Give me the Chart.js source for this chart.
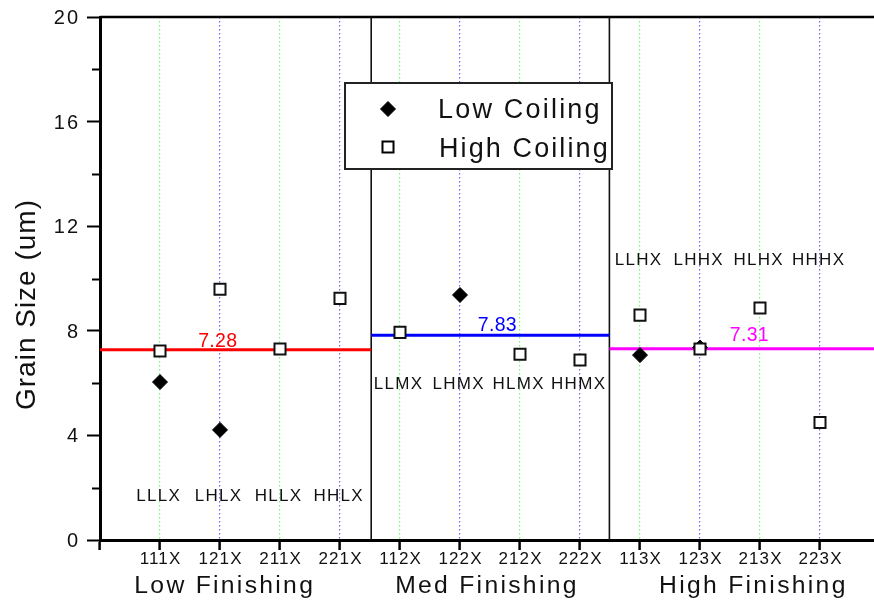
<!DOCTYPE html>
<html>
<head>
<meta charset="utf-8">
<script src="https://cdn.jsdelivr.net/npm/chart.js@4/dist/chart.umd.min.js"></script>
<style>
  html, body { margin: 0; padding: 0; background: #fff; overflow: hidden; }
  #wrap { width: 874px; height: 602px; }
</style>
</head>
<body>
<div id="wrap"><canvas id="myChart"></canvas></div>
<script>
// sample codes on the x axis, placed at 1..12
const codes = ['111X', '121X', '211X', '221X', '112X', '122X', '212X', '222X', '113X', '123X', '213X', '223X'];
// route names written inside the plot, one per code
const routes = ['LLLX', 'LHLX', 'HLLX', 'HHLX', 'LLMX', 'LHMX', 'HLMX', 'HHMX', 'LLHX', 'LHHX', 'HLHX', 'HHHX'];
// grain size (um), null = no point
const lowCoiling = [6.04, 4.21, null, null, null, 9.37, null, null, 7.07, 7.36, null, null];
const highCoiling = [7.23, 9.59, 7.30, 9.24, 7.94, null, 7.10, 6.88, 8.60, 7.30, 8.87, 4.49];
// finishing groups and their mean grain size
const groups = ['Low Finishing', 'Med Finishing', 'High Finishing'];
const groupMeans = [7.28, 7.83, 7.31];
const groupBounds = [0, 4.52, 8.49, 12.9];

const FONT = '"Liberation Sans", Arial, sans-serif';
const meanColors = ['#ff0000', '#0000ff', '#ff00ff'];
const routeLevels = [1.72, 6.02, 10.75];     // height of the route names per group
const meanLabelAt = [[1.96, 7.65], [6.62, 8.26], [10.82, 7.88]];
const groupLabelX = [2.06, 6.43, 10.87];

function toPoints(arr) {
  let pts = [];
  arr.forEach((v, i) => {
    if (v !== null) pts.push({ x: i + 1, y: v });
  });
  return pts;
}

function text(ctx, s, x, y, size, color, align, spacing) {
  ctx.save();
  ctx.font = size + 'px ' + FONT;
  ctx.fillStyle = color;
  ctx.letterSpacing = spacing + 'px';
  ctx.textAlign = align;
  ctx.textBaseline = 'alphabetic';
  let dx = 0;
  if (align === 'center') dx = spacing / 2;
  if (align === 'right') dx = spacing;
  ctx.fillText(s, x + dx, y);
  ctx.restore();
}

const decor = {
  id: 'decor',
  beforeDatasetsDraw(chart) {
    const { ctx, chartArea, scales: { x, y } } = chart;
    ctx.save();
    // top frame line
    ctx.strokeStyle = '#000';
    ctx.lineWidth = 2.5;
    ctx.beginPath();
    ctx.moveTo(chartArea.left, chartArea.top);
    ctx.lineTo(chartArea.right, chartArea.top);
    ctx.stroke();
    // group separators
    ctx.lineWidth = 1.6;
    ctx.strokeStyle = '#111';
    [groupBounds[1], groupBounds[2]].forEach((b) => {
      const px = x.getPixelForValue(b);
      ctx.beginPath();
      ctx.moveTo(px, chartArea.top);
      ctx.lineTo(px, chartArea.bottom);
      ctx.stroke();
    });
    // minor y ticks
    ctx.lineWidth = 2;
    ctx.strokeStyle = '#000';
    for (let v = 2; v < 20; v += 4) {
      const py = Math.round(y.getPixelForValue(v)) + 0.5;
      ctx.beginPath();
      ctx.moveTo(chartArea.left - 8, py);
      ctx.lineTo(chartArea.left, py);
      ctx.stroke();
    }
    ctx.restore();

    // y tick labels
    for (let v = 0; v <= 20; v += 4) {
      text(ctx, String(v), 78, y.getPixelForValue(v) + 7, 20, '#111', 'right', 2);
    }
    // x tick labels
    codes.forEach((c, i) => {
      text(ctx, c, x.getPixelForValue(i + 1), 564, 17, '#111', 'center', 1.1);
    });
    // group names under the axis
    groups.forEach((g, i) => {
      text(ctx, g, x.getPixelForValue(groupLabelX[i]), 593, 24.7, '#111', 'center', 2.3);
    });
    // y axis title
    ctx.save();
    ctx.translate(27, 305);
    ctx.rotate(-Math.PI / 2);
    ctx.font = '28px ' + FONT;
    ctx.letterSpacing = '1px';
    ctx.fillStyle = '#111';
    ctx.textAlign = 'center';
    ctx.textBaseline = 'middle';
    ctx.fillText('Grain Size (um)', 0.5, 0);
    ctx.restore();
    // route names
    routes.forEach((r, i) => {
      const lvl = routeLevels[Math.floor(i / 4)];
      text(ctx, r, x.getPixelForValue(i + 1) - 2, y.getPixelForValue(lvl) + 6, 17, '#111', 'center', 1.3);
    });
    // mean values
    groupMeans.forEach((m, i) => {
      const [lx, ly] = meanLabelAt[i];
      text(ctx, m.toFixed(2), x.getPixelForValue(lx), y.getPixelForValue(ly) + 7, 19.5, meanColors[i], 'center', 0.3);
    });
  },
  afterDatasetsDraw(chart) {
    const { ctx } = chart;
    // legend box
    ctx.save();
    ctx.fillStyle = '#fff';
    ctx.strokeStyle = '#222';
    ctx.lineWidth = 2;
    ctx.fillRect(345, 83, 267, 86);
    ctx.strokeRect(345, 83, 267, 86);
    ctx.fillStyle = '#000';
    ctx.strokeStyle = '#000';
    ctx.lineWidth = 1;
    Chart.helpers.drawPoint(ctx, { pointStyle: 'rectRot', radius: 7.5, borderWidth: 1 }, 388, 109);
    ctx.fillStyle = '#fff';
    ctx.lineWidth = 2;
    Chart.helpers.drawPoint(ctx, { pointStyle: 'rect', radius: 7.8, borderWidth: 2 }, 388, 147);
    ctx.restore();
    text(ctx, 'Low Coiling', 438, 118, 27, '#111', 'left', 2.2);
    text(ctx, 'High Coiling', 439, 157, 27, '#111', 'left', 2.1);
  }
};

const meanSets = groupMeans.map((m, i) => ({
  label: groups[i] + ' mean',
  data: [{ x: groupBounds[i], y: m }, { x: groupBounds[i + 1], y: m }],
  showLine: true,
  borderColor: meanColors[i],
  borderWidth: 3,
  pointRadius: 0,
  order: 3,
}));

new Chart('myChart', {
  type: 'scatter',
  data: {
    datasets: [
      {
        label: 'High Coiling',
        data: toPoints(highCoiling),
        pointStyle: 'rect',
        pointRadius: 7.8,
        pointBorderWidth: 2,
        borderColor: '#111',
        backgroundColor: '#fff',
        order: 1,
      },
      {
        label: 'Low Coiling',
        data: toPoints(lowCoiling),
        pointStyle: 'rectRot',
        pointRadius: 7.5,
        pointBorderWidth: 1,
        borderColor: '#000',
        backgroundColor: '#000',
        order: 2,
      },
      ...meanSets,
    ],
  },
  options: {
    responsive: true,
    maintainAspectRatio: false,
    animation: false,
    layout: { autoPadding: false, padding: { top: 17, right: 0, left: 0, bottom: 0 } },
    plugins: { legend: { display: false }, tooltip: { enabled: false } },
    scales: {
      x: {
        type: 'linear',
        min: 0,
        max: 12.9,
        afterBuildTicks: (axis) => {
          axis.ticks = [];
          for (let i = 0; i <= codes.length; i++) axis.ticks.push({ value: i });
        },
        afterFit: (axis) => { axis.height = 62; },
        ticks: { display: false },
        grid: {
          color: (c) => {
            const v = c.tick ? c.tick.value : 0;
            if (v === 0) return 'rgba(0,0,0,0)';
            return v % 2 === 1 ? '#6cff6c' : '#6464ff';
          },
          lineWidth: 1.2,
          tickLength: 10,
          tickWidth: 2.5,
          tickColor: '#000',
        },
        border: { display: true, color: '#000', width: 3, dash: [1.5, 2.5] },
      },
      y: {
        min: 0,
        max: 20,
        afterBuildTicks: (axis) => {
          axis.ticks = [];
          for (let v = 0; v <= 20; v += 4) axis.ticks.push({ value: v });
        },
        afterFit: (axis) => { axis.width = 100; },
        ticks: { display: false },
        grid: {
          drawOnChartArea: false,
          tickLength: 13,
          tickWidth: 2,
          tickColor: '#000',
        },
        border: { display: true, color: '#000', width: 3 },
      },
    },
  },
  plugins: [decor],
});
</script>
</body>
</html>
